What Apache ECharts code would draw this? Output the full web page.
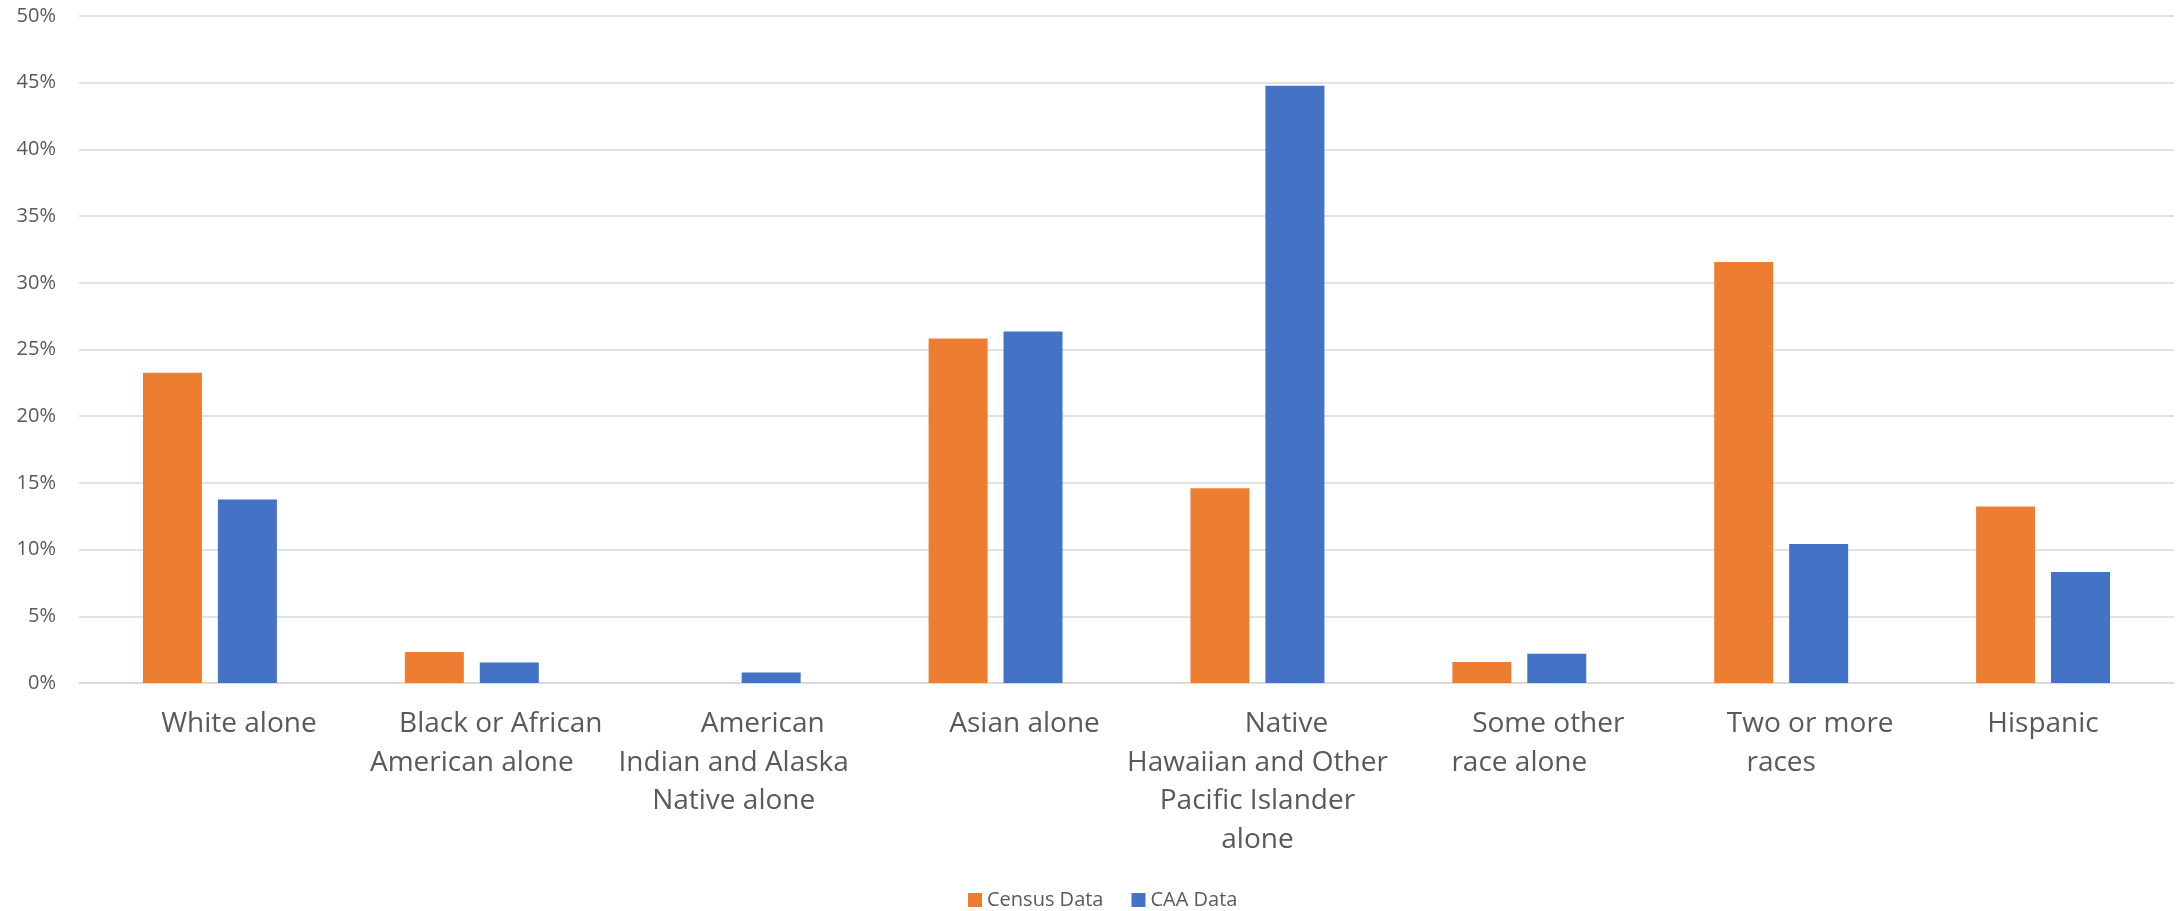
<!DOCTYPE html>
<html>
<head>
<meta charset="utf-8">
<style>
  html, body { margin: 0; padding: 0; background: #ffffff; }
  #chart { width: 2178px; height: 911px; }
</style>
<script src="https://cdn.jsdelivr.net/npm/echarts@6/dist/echarts.min.js"></script>
</head>
<body>
<div id="chart"></div>
<script>
// ---- data ----
const categories = [
  'White alone',
  'Black or African American alone',
  'American Indian and Alaska Native alone',
  'Asian alone',
  'Native Hawaiian and Other Pacific Islander alone',
  'Some other race alone',
  'Two or more races',
  'Hispanic'
];
// wrapped label lines, as shown on the axis
const labelLines = [
  ['White alone'],
  ['Black or African', 'American alone'],
  ['American', 'Indian and Alaska', 'Native alone'],
  ['Asian alone'],
  ['Native', 'Hawaiian and Other', 'Pacific Islander', 'alone'],
  ['Some other', 'race alone'],
  ['Two or more', 'races'],
  ['Hispanic']
];
const seriesNames = ['Census Data', 'CAA Data'];
const censusData = [23.25, 2.33, 0, 25.83, 14.6, 1.57, 31.55, 13.23];
const caaData    = [13.75, 1.53, 0.78, 26.35, 44.77, 2.2, 10.42, 8.33];
const yTicks = { min: 0, max: 50, interval: 5 };

// ---- styling ----
const FONT = "'Open Sans', 'DejaVu Sans', sans-serif";
const TEXT = '#595959';
const lab = { fontFamily: FONT, fontSize: 28, color: TEXT, lineHeight: 38.5 };
const rich = {
  n:    Object.assign({}, lab),
  pl58: Object.assign({}, lab, { padding: [0, 0, 0, 58] })
};
// per-line label styles (first line shifted like the reference, last category centred)
function lineStyle(ci, li) {
  if (ci === 7) return 'n';
  return li === 0 ? 'pl58' : 'n';
}

const chart = echarts.init(document.getElementById('chart'), null, { renderer: 'canvas' });
chart.setOption({
  animation: false,
  backgroundColor: '#ffffff',
  color: ['#ED7D31', '#4472C4'],
  grid: { left: 79, right: 4, top: 16, bottom: 228, containLabel: false },
  legend: {
    data: seriesNames,
    left: 968,
    top: 890,
    padding: 0,
    icon: 'rect',
    itemWidth: 14,
    itemHeight: 14,
    itemGap: 28,
    textStyle: { fontFamily: FONT, fontSize: 20, color: TEXT }
  },
  xAxis: {
    type: 'category',
    data: categories,
    axisLine: { show: true, lineStyle: { color: '#D9D9D9', width: 1.5 } },
    axisTick: { show: false },
    axisLabel: {
      interval: 0,
      margin: 22,
      fontFamily: FONT,
      fontSize: 28,
      color: TEXT,
      lineHeight: 38.5,
      rich: rich,
      formatter: function (value, index) {
        return labelLines[index].map(function (l, j) {
          return '{' + lineStyle(index, j) + '|' + l + '}';
        }).join('\n');
      }
    }
  },
  yAxis: {
    type: 'value',
    min: yTicks.min,
    max: yTicks.max,
    interval: yTicks.interval,
    axisLine: { show: false },
    axisTick: { show: false },
    splitLine: { show: true, lineStyle: { color: '#D9D9D9', width: 1.5 } },
    axisLabel: {
      margin: 23,
      fontFamily: FONT,
      fontSize: 20,
      color: TEXT,
      formatter: function (v) { return v + '%'; }
    }
  },
  series: [
    {
      name: seriesNames[0],
      type: 'bar',
      data: censusData,
      barWidth: 59,
      barGap: '27%'
    },
    {
      name: seriesNames[1],
      type: 'bar',
      data: caaData,
      barWidth: 59,
      barGap: '27%'
    }
  ]
});
</script>
</body>
</html>
